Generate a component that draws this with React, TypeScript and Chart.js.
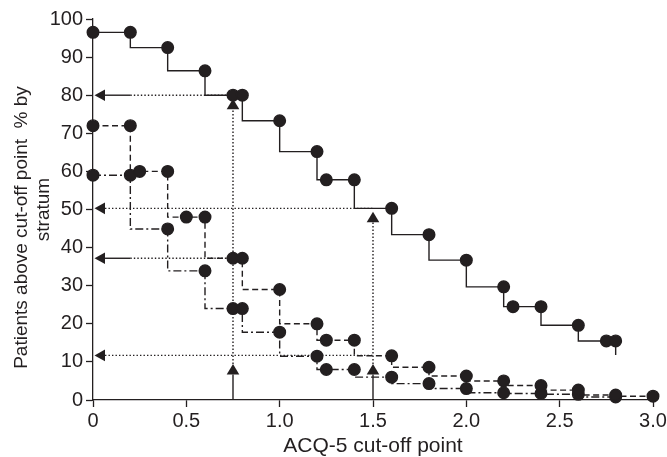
import React, { useEffect, useRef } from 'react';
import { Chart, registerables } from 'chart.js';

Chart.register(...registerables);

const INK = '#231f20';
const FONT = '"Liberation Sans", Arial, Helvetica, sans-serif';

// Strata (step curves): x = ACQ-5 cut-off point, y = % patients above cut-off
const solidX = [0, 0.2, 0.4, 0.6, 0.75, 0.8, 1.0, 1.2, 1.25, 1.4, 1.6, 1.8, 2.0, 2.2, 2.25, 2.4, 2.6, 2.75, 2.8];
const solidY = [96.5, 96.5, 92.5, 86.4, 80, 80, 73.3, 65.2, 57.8, 57.8, 50.3, 43.4, 36.7, 29.7, 24.5, 24.5, 19.6, 15.5, 15.5];
const solidTailY = 11.8; // final drop of the solid curve (no marker)

const dashedX = [0, 0.2, 0.25, 0.4, 0.5, 0.6, 0.75, 0.8, 1.0, 1.2, 1.25, 1.4, 1.6, 1.8, 2.0, 2.2, 2.4, 2.6, 2.8, 3.0];
const dashedY = [72, 72, 60, 60, 48, 48, 37.2, 37.2, 29, 20, 15.7, 15.7, 11.6, 8.6, 6.3, 5.0, 3.8, 2.6, 1.3, 1.0];

const dashDotX = [0, 0.2, 0.4, 0.6, 0.75, 0.8, 1.0, 1.2, 1.25, 1.4, 1.6, 1.8, 2.0, 2.2, 2.4, 2.6, 2.8];
const dashDotY = [59, 59, 44.9, 33.9, 24, 24, 17.8, 11.5, 8.0, 8.0, 6.0, 4.3, 3.0, 1.9, 1.7, 1.5, 0.8];

// Reading arrows
const hArrowLevels = [80, 50.3, 37.2, 11.7];
const hArrowEnds = [0.75, 1.5, 0.75, 1.5];
const hArrowShaftEnds = [0.2, 0, 0.2, 0];
const vArrowX = [0.75, 1.5];
const vArrowTops = [80, 50.3];

const xTickValues = [0, 0.5, 1.0, 1.5, 2.0, 2.5, 3.0];
const yTitleLines = ['Patients above cut-off point  % by', 'stratum'];
const xTitle = 'ACQ-5 cut-off point';

const toPts = (xs: number[], ys: number[]) => xs.map((x, i) => ({ x, y: ys[i] }));

const arrowsPlugin = {
  id: 'readingArrows',
  beforeDatasetsDraw(chart: any) {
    const { ctx, scales } = chart;
    const xs = scales.x;
    const ys = scales.y;
    const HEAD_LEN = 10.5;
    const HEAD_HALF = 5.8;
    const DOT = [1.4, 2.1];
    const line = (x1: number, y1: number, x2: number, y2: number) => {
      ctx.beginPath();
      ctx.moveTo(x1, y1);
      ctx.lineTo(x2, y2);
      ctx.stroke();
    };
    ctx.save();
    ctx.strokeStyle = INK;
    ctx.fillStyle = INK;
    ctx.lineWidth = 1.4;
    const x0 = xs.getPixelForValue(0);
    const y0 = ys.getPixelForValue(0);

    hArrowLevels.forEach((lv, i) => {
      const py = ys.getPixelForValue(lv);
      const tip = x0 + 1.5;
      const base = tip + HEAD_LEN;
      ctx.setLineDash([]);
      ctx.beginPath();
      ctx.moveTo(tip, py);
      ctx.lineTo(base, py - HEAD_HALF);
      ctx.lineTo(base, py + HEAD_HALF);
      ctx.closePath();
      ctx.fill();
      const sx = xs.getPixelForValue(hArrowShaftEnds[i]);
      if (sx > base) line(base, py, sx, py);
      ctx.setLineDash(DOT);
      line(Math.max(base, sx), py, xs.getPixelForValue(hArrowEnds[i]), py);
    });

    vArrowX.forEach((vx, i) => {
      const px = xs.getPixelForValue(vx);
      // bottom arrow (solid shaft from the axis)
      const bTip = y0 - 36;
      const bBase = bTip + HEAD_LEN;
      ctx.setLineDash([]);
      line(px, y0, px, bBase);
      ctx.beginPath();
      ctx.moveTo(px, bTip);
      ctx.lineTo(px - HEAD_HALF - 0.5, bBase);
      ctx.lineTo(px + HEAD_HALF + 0.5, bBase);
      ctx.closePath();
      ctx.fill();
      // top arrow pointing at the curve
      const tTip = ys.getPixelForValue(vArrowTops[i]) + 3.5;
      const tBase = tTip + HEAD_LEN;
      ctx.beginPath();
      ctx.moveTo(px, tTip);
      ctx.lineTo(px - HEAD_HALF - 0.5, tBase);
      ctx.lineTo(px + HEAD_HALF + 0.5, tBase);
      ctx.closePath();
      ctx.fill();
      ctx.setLineDash(DOT);
      line(px, bTip, px, tBase);
    });
    ctx.restore();
  },
};

const yTitlePlugin = {
  id: 'yTitle',
  afterDraw(chart: any) {
    const { ctx, chartArea } = chart;
    const cy = (chartArea.top + chartArea.bottom) / 2;
    ctx.save();
    ctx.fillStyle = INK;
    ctx.font = `19px ${FONT}`;
    ctx.textAlign = 'center';
    ctx.textBaseline = 'alphabetic';
    const pos = [
      { bx: 27, dy: 18 },
      { bx: 49, dy: 0 },
    ];
    yTitleLines.forEach((t, i) => {
      ctx.save();
      ctx.translate(pos[i].bx, cy + pos[i].dy);
      ctx.rotate(-Math.PI / 2);
      ctx.fillText(t, 0, 0);
      ctx.restore();
    });
    ctx.restore();
  },
};

export default function App() {
  const ref = useRef<HTMLCanvasElement>(null);

  useEffect(() => {
    if (!ref.current) return;
    const common = {
      borderColor: INK,
      backgroundColor: INK,
      pointBackgroundColor: INK,
      pointBorderColor: INK,
      borderWidth: 1.4,
      stepped: 'after' as const,
      clip: false as any,
      pointHoverRadius: 5.5,
    };
    const solidPts = [...toPts(solidX, solidY), { x: solidX[solidX.length - 1], y: solidTailY }];
    const chart = new Chart(ref.current, {
      type: 'line',
      data: {
        datasets: [
          {
            ...common,
            data: solidPts,
            pointRadius: solidPts.map((_, i) => (i === solidPts.length - 1 ? 0 : 5.8)),
          },
          {
            ...common,
            data: toPts(dashedX, dashedY),
            borderDash: [6, 3.5],
            pointRadius: 5.8,
          },
          {
            ...common,
            data: toPts(dashDotX, dashDotY),
            borderDash: [8, 3, 2, 3],
            pointRadius: 5.8,
          },
        ],
      },
      plugins: [arrowsPlugin, yTitlePlugin],
      options: {
        responsive: false,
        animation: false,
        events: [],
        layout: { padding: { left: 0, right: 14, top: 19, bottom: 0 } },
        plugins: {
          legend: { display: false },
          tooltip: { enabled: false },
        },
        scales: {
          x: {
            type: 'linear',
            min: 0,
            max: 3,
            afterBuildTicks: (scale: any) => {
              scale.ticks = xTickValues.map((v) => ({ value: v }));
            },
            afterFit: (scale: any) => {
              scale.height = 57;
              scale.paddingLeft = 0;
              scale.paddingRight = 0;
            },
            border: { display: true, color: INK, width: 1.3 },
            grid: {
              display: true,
              drawOnChartArea: false,
              drawTicks: true,
              tickLength: 7,
              tickColor: INK,
              tickWidth: 1.3,
            },
            ticks: {
              color: INK,
              font: { family: FONT, size: 20 },
              padding: 2,
              maxRotation: 0,
              autoSkip: false,
              callback: (v: any) => (Number(v) === 0 ? '0' : Number(v).toFixed(1)),
            },
            title: {
              display: true,
              text: xTitle,
              color: INK,
              font: { family: FONT, size: 21, lineHeight: 1.0 },
              padding: { top: 0, bottom: 0 },
            },
          },
          y: {
            type: 'linear',
            min: 0,
            max: 100,
            afterFit: (scale: any) => {
              scale.width = 93;
              scale.paddingTop = 0;
              scale.paddingBottom = 0;
            },
            border: { display: true, color: INK, width: 1.3 },
            grid: {
              display: true,
              drawOnChartArea: false,
              drawTicks: true,
              tickLength: 7,
              tickColor: INK,
              tickWidth: 1.3,
            },
            ticks: {
              stepSize: 10,
              color: INK,
              font: { family: FONT, size: 20 },
              padding: 3,
            },
            title: { display: false },
          },
        },
      },
    });
    return () => chart.destroy();
  }, []);

  return (
    <div style={{ position: 'fixed', left: 0, top: 0, width: 667, height: 457, background: '#fff' }}>
      <canvas ref={ref} width={667} height={457} />
    </div>
  );
}
